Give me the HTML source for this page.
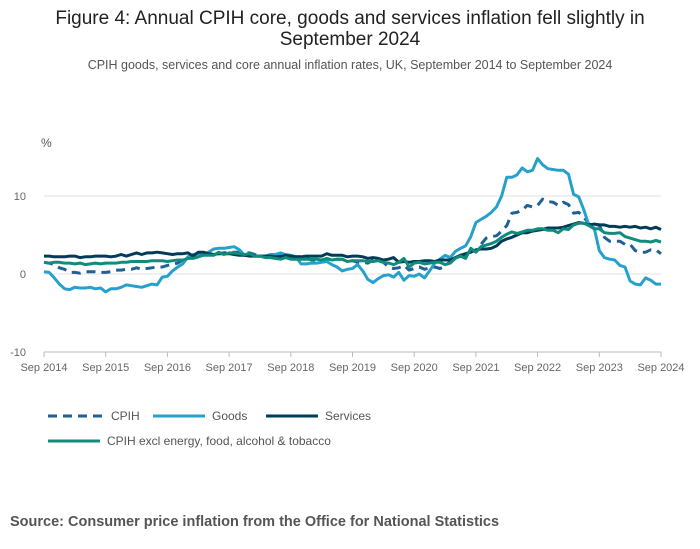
<!DOCTYPE html>
<html><head><meta charset="utf-8"><style>
body{margin:0;background:#fff;font-family:"Liberation Sans",sans-serif;}
#wrap{position:relative;width:700px;height:549px;overflow:hidden;}
</style></head><body>
<div id="wrap">
<svg id="chart" width="700" height="549">
<text x="350" y="24" text-anchor="middle" font-size="19" fill="#222">Figure 4: Annual CPIH core, goods and services inflation fell slightly in</text>
<text x="350" y="45" text-anchor="middle" font-size="19" fill="#222">September 2024</text>
<text x="350" y="69" text-anchor="middle" font-size="12.5" fill="#555">CPIH goods, services and core annual inflation rates, UK, September 2014 to September 2024</text>
<text x="41" y="147" font-size="12" fill="#555">%</text>
<g id="grid"></g><g id="series"></g>
<g>
<line x1="48" y1="416" x2="105" y2="416" stroke="#206095" stroke-width="3" stroke-dasharray="9,6"/>
<text x="111" y="420" font-size="12" fill="#555">CPIH</text>
<line x1="153" y1="416" x2="205" y2="416" stroke="#27a0cc" stroke-width="3"/>
<text x="212" y="420" font-size="12" fill="#555">Goods</text>
<line x1="266" y1="416" x2="318" y2="416" stroke="#003c57" stroke-width="3"/>
<text x="325" y="420" font-size="12" fill="#555">Services</text>
<line x1="48" y1="441" x2="100" y2="441" stroke="#118c7b" stroke-width="3"/>
<text x="107" y="445" font-size="12" fill="#555">CPIH excl energy, food, alcohol &amp; tobacco</text>
</g>
<text x="10" y="526" font-size="14.5" font-weight="bold" fill="#555">Source: Consumer price inflation from the Office for National Statistics</text>
</svg>
</div>
<script>
const xLabels=["Sep 2014","Sep 2015","Sep 2016","Sep 2017","Sep 2018","Sep 2019","Sep 2020","Sep 2021","Sep 2022","Sep 2023","Sep 2024"];
const yTicks=[10,0,-10];
const cpih=[1.5,1.4,1.2,0.8, 0.6,0.2,0.2,0.1,0.3,0.3,0.3,0.2,0.2,0.3,0.5,0.5, 0.6,0.6,0.8,0.6,0.7,0.8,0.9,0.9,1.1,1.2,1.4,1.8, 2.0,2.2,2.1,2.5,2.6,2.6,2.6,2.7,2.8,2.8,2.8,2.7, 2.7,2.5,2.3,2.2,2.3,2.3,2.3,2.4,2.2,2.2,2.2,2.0, 1.8,1.8,1.8,1.9,1.9,1.9,1.9,1.6,1.7,1.5,1.5,1.4, 1.8,1.7,1.5,0.9,0.7,0.8,1.1,0.5,0.7,0.9,0.6,0.8, 0.9,0.7,1.0,1.6,2.1,2.4,2.1,3.0,2.9,3.8,4.6,4.8, 4.9,5.5,6.2,7.8,7.9,8.2,8.8,8.6,8.8,9.6,9.3,9.2, 8.8,9.2,8.9,7.8,7.9,7.3,6.4,6.3,6.3,4.7,4.2,4.2, 4.2,3.8,3.8,3.0,2.8,2.8,3.1,3.1,2.6];
const goods=[0.3,0.2,-0.5,-1.3, -1.9,-2.0,-1.7,-1.8,-1.8,-1.7,-1.9,-1.8,-2.3,-1.9,-1.9,-1.7, -1.4,-1.5,-1.6,-1.7,-1.5,-1.3,-1.4,-0.4,-0.3,0.4,0.9,1.3, 2.2,2.5,2.6,2.5,2.8,3.2,3.3,3.3,3.4,3.5,3.1,2.4, 2.6,2.3,2.3,2.3,2.5,2.5,2.7,2.5,2.4,2.2,1.3,1.3, 1.4,1.4,1.5,1.6,1.2,0.9,0.4,0.6,0.7,1.2,0.4,-0.7, -1.1,-0.6,-0.2,-0.1,-0.4,0.2,-0.8,-0.2,-0.3,0.0,-0.5,0.4, 1.4,1.9,2.4,2.1,2.9,3.3,3.6,4.8,6.6,7.0,7.4,7.9, 8.6,10.0,12.4,12.4,12.7,13.6,13.1,13.3,14.8,14.0,13.5,13.4, 13.3,13.3,12.8,10.2,9.9,8.2,6.2,5.9,3.0,2.1,1.9,1.8, 1.1,0.9,-0.9,-1.3,-1.4,-0.5,-0.8,-1.3,-1.3];
const services=[2.3,2.3,2.2,2.2, 2.2,2.3,2.3,2.1,2.2,2.2,2.3,2.3,2.3,2.2,2.3,2.5, 2.3,2.5,2.7,2.5,2.7,2.7,2.8,2.7,2.6,2.5,2.6,2.6, 2.7,2.3,2.8,2.8,2.6,2.5,2.6,2.6,2.6,2.5,2.4,2.4, 2.3,2.3,2.3,2.3,2.3,2.2,2.2,2.4,2.3,2.2,2.2,2.3, 2.3,2.3,2.3,2.6,2.4,2.4,2.4,2.2,2.3,2.3,2.2,2.0, 2.1,2.0,1.8,1.9,2.1,1.5,1.6,1.5,1.6,1.6,1.7,1.7, 1.6,1.8,1.8,1.8,2.1,2.4,2.6,2.8,3.1,3.2,3.2,3.3, 3.6,4.2,4.5,4.7,5.0,5.3,5.3,5.5,5.6,5.7,5.9,5.9, 5.9,6.0,6.2,6.4,6.6,6.5,6.3,6.4,6.3,6.3,6.1,6.1, 6.0,6.1,6.0,6.1,5.9,6.0,5.8,6.0,5.7];
const core=[1.5,1.4,1.5,1.5, 1.4,1.4,1.3,1.4,1.2,1.3,1.4,1.3,1.4,1.4,1.4,1.5, 1.5,1.6,1.6,1.6,1.6,1.7,1.7,1.7,1.6,1.7,1.8,1.8, 2.0,2.0,2.2,2.4,2.4,2.4,2.8,2.5,2.7,2.7,2.6,2.5, 2.6,2.3,2.3,2.1,2.1,2.0,1.9,2.1,1.9,1.9,1.9,1.9, 1.9,1.9,1.8,2.0,1.8,1.9,1.9,1.6,1.7,1.7,1.7,1.6, 1.6,1.7,1.5,1.4,1.2,1.5,2.0,0.9,1.4,1.5,1.3,1.4, 1.5,1.5,1.2,1.4,2.0,2.3,2.0,3.3,2.8,3.5,3.7,3.9, 4.2,4.7,5.1,5.4,5.2,5.4,5.6,5.6,5.8,5.8,5.6,5.6, 5.3,5.8,5.7,6.3,6.5,6.5,6.2,5.8,5.8,5.3,5.2,5.2, 5.3,4.8,4.6,4.4,4.2,4.2,4.1,4.3,4.1];
const NS="http://www.w3.org/2000/svg";
const X0=44,X1=661,Y0=274,PPU=7.8;
function x(i){return X0+(X1-X0)*i/120;}
function y(v){return Y0-v*PPU;}
function mk(t,a){const e=document.createElementNS(NS,t);for(const k in a)e.setAttribute(k,a[k]);return e;}
const grid=document.getElementById('grid');
yTicks.forEach(v=>{
 const l=mk('line',{x1:X0,x2:X1,y1:y(v),y2:y(v),stroke:v===-10?'#bbb':'#e2e2e2','stroke-width':1});
 
 
 grid.appendChild(l);
 const t=mk('text',{x:26,y:y(v)+4,'text-anchor':'end','font-size':11,fill:'#666'});
 t.textContent=v;
 
 
 grid.appendChild(t);
});
xLabels.forEach((s,k)=>{
 const xx=x(k*12);
 const tk=mk('line',{x1:xx,x2:xx,y1:y(-10),y2:y(-10)+5,stroke:'#bbb'});
 
 
 grid.appendChild(tk);
 const t=mk('text',{x:xx,y:371,'text-anchor':'middle','font-size':11,fill:'#666'});
 t.textContent=s;
 
 
 grid.appendChild(t);
});
const sg=document.getElementById('series');
function draw(arr,color,name,dash){
 const p=mk('path',{d:arr.map((v,i)=>(i?'L':'M')+x(i).toFixed(1)+','+y(v).toFixed(1)).join(''),fill:'none',stroke:color,'stroke-width':3,'stroke-linejoin':'round'});
 if(dash)p.setAttribute('stroke-dasharray',dash);
 
 
 sg.appendChild(p);
}
draw(cpih,'#206095','cpih-line','9,6');
draw(goods,'#27a0cc','goods-line');
draw(services,'#003c57','services-line');
draw(core,'#118c7b','core-cpih-line');
</script>
</body></html>
